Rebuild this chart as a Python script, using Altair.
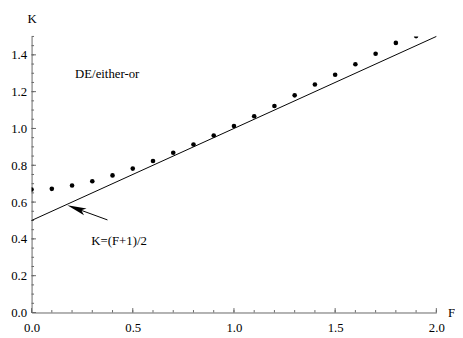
import altair as alt
import pandas as pd

# ---- data ----
F_pts = [0.0, 0.1, 0.2, 0.3, 0.4, 0.5, 0.6, 0.7, 0.8, 0.9,
         1.0, 1.1, 1.2, 1.3, 1.4, 1.5, 1.6, 1.7, 1.8, 1.9]
K_pts = [0.668, 0.672, 0.690, 0.713, 0.745, 0.782, 0.823, 0.868, 0.913, 0.962,
         1.013, 1.066, 1.122, 1.180, 1.239, 1.292, 1.349, 1.406, 1.465, 1.502]

F_line = [0.0, 2.0]
K_line = [0.5, 1.5]

x_major = [0.0, 0.5, 1.0, 1.5, 2.0]
y_major = [0.0, 0.2, 0.4, 0.6, 0.8, 1.0, 1.2, 1.4]
x_minor = [round(i * 0.1, 2) for i in range(21)]
y_minor = [round(i * 0.05, 2) for i in range(31)]

labels_text = ["DE/either-or", "K=(F+1)/2"]
labels_F = [0.215, 0.295]
labels_K = [1.294, 0.39]

arrow_F = [0.375, 0.221]
arrow_K = [0.503, 0.565]

W, H = 412, 281
FONT = "Liberation Serif"
AX = "#666666"

pts = pd.DataFrame({"F": F_pts, "K": K_pts})
ln = pd.DataFrame({"F": F_line, "K": K_line})
lab = pd.DataFrame({"F": labels_F, "K": labels_K, "t": labels_text})
arr = pd.DataFrame({"F": arrow_F, "K": arrow_K})

xs = alt.Scale(domain=[0, 2], nice=False)
ys = alt.Scale(domain=[0, 1.5], nice=False)

xaxis = alt.Axis(values=x_major, format=".1f", ticks=False, grid=False,
                 domainColor=AX, labelFont=FONT, labelFontSize=13, labelColor="black",
                 labelPadding=9, title="F", titleFont=FONT, titleFontSize=13,
                 titleFontWeight="normal", titleX=427, titleY=0, titleBaseline="middle",
                 titleAlign="center", labelFlush=False)
yaxis = alt.Axis(values=y_major, format=".1f", ticks=False, grid=False,
                 domainColor=AX, labelFont=FONT, labelFontSize=13, labelColor="black",
                 labelPadding=5, title="K", titleFont=FONT, titleFontSize=13,
                 titleFontWeight="normal", titleAngle=0, titleX=0, titleY=-18,
                 titleBaseline="middle", titleAlign="center", labelFlush=False)

base_pts = alt.Chart(pts).mark_circle(color="black", size=22, opacity=1, clip=True).encode(
    x=alt.X("F:Q", scale=xs, axis=xaxis),
    y=alt.Y("K:Q", scale=ys, axis=yaxis),
)

line = alt.Chart(ln).mark_line(color="black", strokeWidth=1).encode(
    x=alt.X("F:Q", scale=xs), y=alt.Y("K:Q", scale=ys))

xmaj = alt.Chart(pd.DataFrame({"F": x_major})).mark_rule(color=AX).encode(
    x=alt.X("F:Q", scale=xs), y=alt.value(H), y2=alt.value(H - 4.5))
xmin = alt.Chart(pd.DataFrame({"F": x_minor})).mark_rule(color=AX).encode(
    x=alt.X("F:Q", scale=xs), y=alt.value(H), y2=alt.value(H - 2.5))
ymaj = alt.Chart(pd.DataFrame({"K": y_major})).mark_rule(color=AX).encode(
    y=alt.Y("K:Q", scale=ys), x=alt.value(0), x2=alt.value(4.5))
ymin = alt.Chart(pd.DataFrame({"K": y_minor})).mark_rule(color=AX).encode(
    y=alt.Y("K:Q", scale=ys), x=alt.value(0), x2=alt.value(2.5))

texts = alt.Chart(lab).mark_text(font=FONT, fontSize=13, align="left",
                                 baseline="middle", color="black").encode(
    x=alt.X("F:Q", scale=xs), y=alt.Y("K:Q", scale=ys), text="t:N")

shaft = alt.Chart(arr).mark_line(color="black", strokeWidth=1).encode(
    x=alt.X("F:Q", scale=xs), y=alt.Y("K:Q", scale=ys))
head = alt.Chart(arr.iloc[[1]]).mark_point(
    shape="M0,-1L-0.38,1L0,0.55L0.38,1Z", filled=True, color="black",
    opacity=1, size=380, angle=290, strokeWidth=0).encode(
    x=alt.X("F:Q", scale=xs), y=alt.Y("K:Q", scale=ys))

chart = alt.layer(xmin, xmaj, ymin, ymaj, line, base_pts, texts, shaft, head).properties(
    width=W, height=H,
    autosize=alt.AutoSizeParams(type="none"),
    padding={"left": 24, "top": 26, "right": 19, "bottom": 23},
).configure_view(stroke=None)

chart.save("out.html", embed_options={"renderer": "svg", "actions": False})
